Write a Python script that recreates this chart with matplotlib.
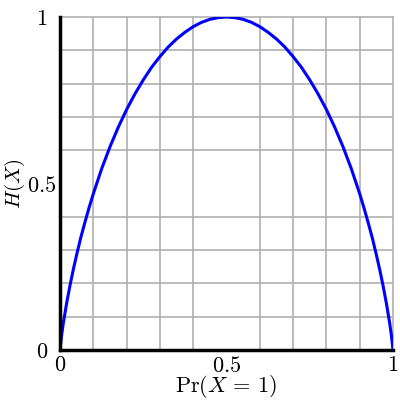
import numpy as np
import matplotlib.pyplot as plt

plt.rcParams['mathtext.fontset'] = 'cm'
plt.rcParams['font.family'] = 'serif'
plt.rcParams['font.serif'] = ['cmr10', 'DejaVu Serif']
plt.rcParams['axes.formatter.use_mathtext'] = True

# values (left half, the right half mirrors it)
p_left = [0.0, 0.005, 0.01, 0.02, 0.03, 0.04, 0.05, 0.0625, 0.075, 0.0875,
          0.1, 0.125, 0.15, 0.175, 0.2, 0.225, 0.25, 0.275, 0.3, 0.325,
          0.35, 0.375, 0.4, 0.425, 0.45, 0.475, 0.5]
h_left = [0.0, 0.045, 0.081, 0.141, 0.194, 0.242, 0.286, 0.338, 0.384, 0.428,
          0.469, 0.544, 0.610, 0.669, 0.722, 0.769, 0.811, 0.849, 0.881, 0.910,
          0.934, 0.954, 0.971, 0.984, 0.993, 0.998, 1.0]
p = p_left + [1 - v for v in p_left[-2::-1]]
h = h_left + h_left[-2::-1]
ticks = [0, 0.5, 1]
tick_labels = ['0', '0.5', '1']

fig = plt.figure(figsize=(4, 4), dpi=100)
ax = fig.add_axes([0.15, 0.125, 0.8325, 0.8325])

ax.plot(p, h, color='blue', lw=2.2, zorder=3)

ax.set_xlim(0, 1)
ax.set_ylim(0, 1)
ax.set_xticks(np.linspace(0, 1, 11), minor=True)
ax.set_yticks(np.linspace(0, 1, 11), minor=True)
ax.grid(True, which='minor', color='#b0b0b0', lw=1.2)
ax.set_xticks(ticks)
ax.set_xticklabels(['$%s$' % t for t in tick_labels])
ax.set_yticks(ticks)
ax.set_yticklabels(['$%s$' % t for t in tick_labels], ha='center')
ax.tick_params(which='both', length=0, labelsize=16)
ax.tick_params(axis='x', pad=4)
ax.tick_params(axis='y', pad=13)

for s in ['top', 'right']:
    ax.spines[s].set_color('#b0b0b0')
    ax.spines[s].set_linewidth(1.2)
for s in ['left', 'bottom']:
    ax.spines[s].set_color('black')
    ax.spines[s].set_linewidth(2.5)
    ax.spines[s].set_zorder(4)

ax.set_xlabel(r'$\mathrm{Pr}(X\,=\,1)$', fontsize=16, labelpad=-2)
ax.set_ylabel(r'$H(X)$', fontsize=15)
ax.yaxis.set_label_coords(-0.1, 0.5)

fig.savefig('out.png')
